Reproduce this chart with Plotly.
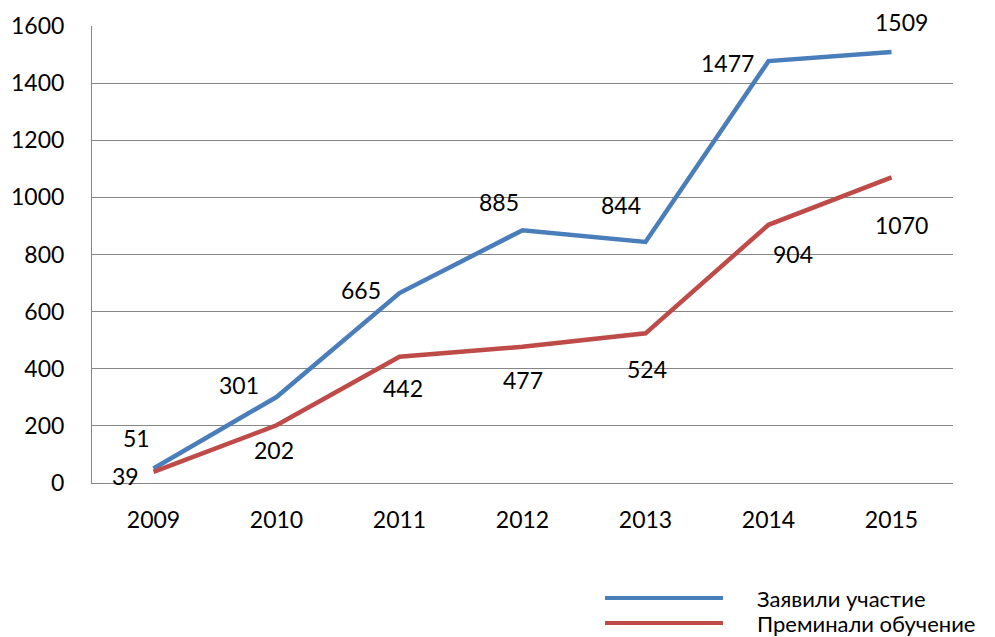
import plotly.graph_objects as go

years = ["2009", "2010", "2011", "2012", "2013", "2014", "2015"]
applied = [51, 301, 665, 885, 844, 1477, 1509]
trained = [39, 202, 442, 477, 524, 904, 1070]
name_applied = "Заявили участие"
name_trained = "Преминали обучение"
y_ticks = [0, 200, 400, 600, 800, 1000, 1200, 1400, 1600]

# label pixel offsets (style)
off_applied = [(-17, -30), (-38, -12), (-39, -3), (-24, -28), (-25, -37), (-41, 2), (10, -30)]
off_trained = [(-28, 4), (-3, 25), (3, 31), (0, 33), (1, 36), (24, 29), (10, 48)]

BLUE = "#4A7EBB"
RED = "#BE4B48"
FONT = "Lato, 'Open Sans', sans-serif"
FS = 23

fig = go.Figure()
fig.add_trace(go.Scatter(x=years, y=applied, mode="lines", name=name_applied,
                         line=dict(color=BLUE, width=4.5), hoverinfo="x+y"))
fig.add_trace(go.Scatter(x=years, y=trained, mode="lines", name=name_trained,
                         line=dict(color=RED, width=4.5), hoverinfo="x+y"))

anns = []
for vals, offs in ((applied, off_applied), (trained, off_trained)):
    for i, (v, (dx, dy)) in enumerate(zip(vals, offs)):
        anns.append(dict(x=i, y=v, xref="x", yref="y", text=str(v), showarrow=False,
                         xshift=dx, yshift=-dy, font=dict(size=FS, color="#000", family=FONT)))

# manual legend
PL, PT, PB, PW = 92, 26, 483, 861
legend_items = [(name_applied, BLUE), (name_trained, RED)]
shapes = []
for i, (nm, col) in enumerate(legend_items):
    ypix = 598 + i * 25
    yp = 1 - (ypix - PT) / (PB - PT)
    shapes.append(dict(type="line", xref="paper", yref="paper",
                       x0=(605 - PL) / PW, x1=(723 - PL) / PW, y0=yp, y1=yp,
                       line=dict(color=col, width=4)))
    anns.append(dict(x=(755 - PL) / PW, y=yp, xref="paper", yref="paper", text=nm,
                     showarrow=False, xanchor="left", yanchor="middle",
                     font=dict(size=22, color="#000", family=FONT)))

fig.update_layout(
    width=987, height=629,
    margin=dict(l=84, r=42, t=18, b=154, autoexpand=False),
    paper_bgcolor="white", plot_bgcolor="white",
    showlegend=False,
    annotations=anns, shapes=shapes,
    font=dict(family=FONT, size=FS, color="#000"),
)
fig.update_xaxes(type="category", range=[-0.5, 6.5], showgrid=False, automargin=False,
                 showline=True, linecolor="#868686", linewidth=1,
                 ticks="", ticklabelstandoff=16, tickfont=dict(size=FS, family=FONT))
fig.update_yaxes(range=[0, 1600], tickvals=y_ticks, showgrid=True, gridcolor="#868686",
                 gridwidth=1, showline=True, linecolor="#868686", linewidth=1, automargin=False,
                 zeroline=False, ticks="", ticklabelstandoff=22,
                 tickfont=dict(size=FS, family=FONT))

fig.write_html("out.html")
